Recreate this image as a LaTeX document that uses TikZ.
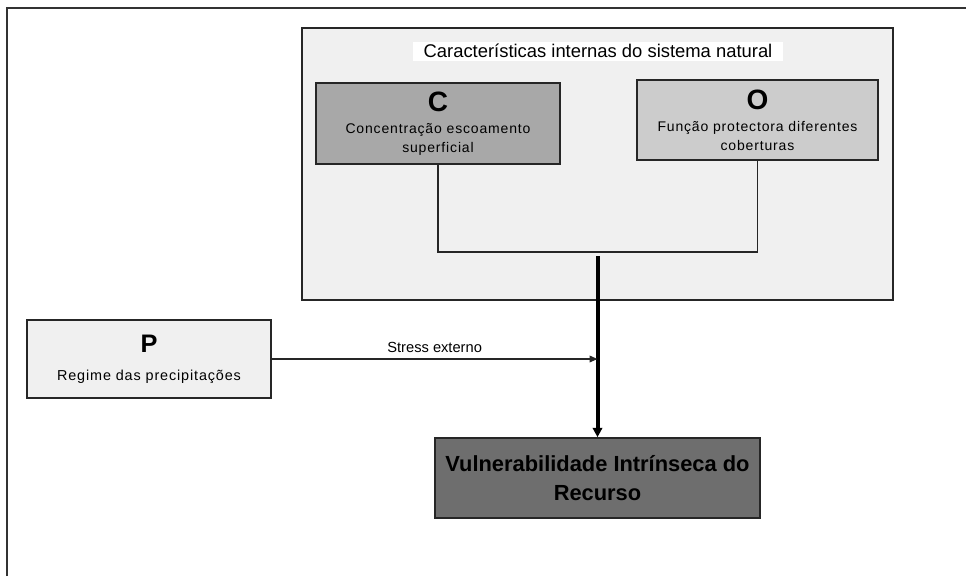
\documentclass[tikz,border=0pt]{standalone}
\usepackage{fontspec}
\setmainfont{Liberation Sans}
\newfontfamily\widefont[LetterSpace=6]{Liberation Sans}
\usetikzlibrary{arrows.meta}
\begin{document}
\begin{tikzpicture}[x=0.75pt,y=-0.75pt,
        box/.style={draw=black!85, line width=1.2pt, align=center, inner sep=0pt},
        small/.style={font=\fontsize{10.5}{14.25}\selectfont\widefont},
        link/.style={draw=black!85, line width=1.1pt}]
        \useasboundingbox (0,0) rectangle (966,576);
        % frame, cut off at the right and the bottom
        \draw[line width=1.5pt, black!80] (7,576) -- (7,8) -- (966,8);
        \node[box, fill=black!6, minimum width=443.25pt, minimum height=204pt] (inner) at (597.5,164) {};
        \node[fill=white, minimum width=277.5pt, minimum height=14.25pt, inner sep=0pt,
              font=\fontsize{13.8}{15}\selectfont] (title) at (598,51) {Características internas do sistema natural};
        \node[box, small, fill=black!34, minimum width=183pt, minimum height=60.75pt] (C) at (438,123.5)
            {{\fontsize{21}{22}\selectfont\bfseries C}\\[2pt]
             Concentração escoamento\\ superficial};
        \node[box, small, fill=black!20, minimum width=180.75pt, minimum height=60pt] (O) at (757.5,120)
            {{\fontsize{21}{22}\selectfont\bfseries O}\\[2pt]
             Função protectora diferentes\\ coberturas};
        \node[box, small, fill=black!6, minimum width=183pt, minimum height=58.5pt,
              font=\fontsize{10.8}{12}\selectfont\widefont] (P) at (149,359)
            {{\fontsize{19}{20}\selectfont\bfseries P}\\[9pt]
             Regime das precipitações};
        \node[box, fill=black!57, minimum width=243.75pt, minimum height=60pt,
              font=\fontsize{16.4}{21.75}\selectfont\bfseries] (V) at (597.5,478)
            {Vulnerabilidade Intrínseca do\\ Recurso};
        \coordinate (join) at (597.5,256);
        \coordinate (hit) at (join |- P.east);
        \draw[link] (C.south) -- ++(0,87) -| (O.south);
        \draw[line width=3pt, -{Triangle[length=7pt, width=7pt]}] (join) -- (V.north);
        \draw[link, -{Triangle[length=6pt, width=5pt]}] (P.east) -- (hit)
            node[midway, above=1pt, font=\fontsize{11}{12}\selectfont] (stress) {Stress externo};
\end{tikzpicture}
\end{document}
